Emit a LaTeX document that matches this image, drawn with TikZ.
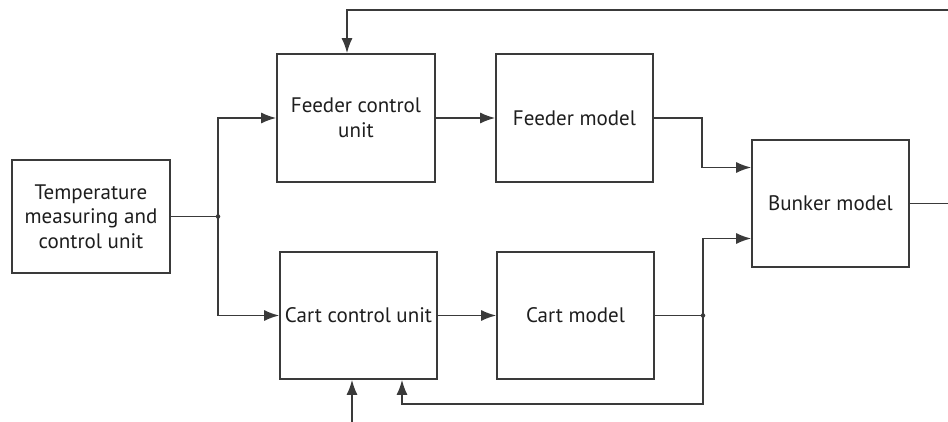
\documentclass[tikz,border=0pt]{standalone}
\usepackage{fontspec}
\setmainfont{PT Sans}
\usetikzlibrary{arrows.meta}
\definecolor{ln}{HTML}{3A3A3A}
\definecolor{tx}{HTML}{1E1E1E}
\tikzset{
  blockbox/.style={draw=ln, line width=1.6pt, fill=white, rectangle, inner sep=2pt,
    minimum width=157pt, minimum height=127pt, align=center, text=tx,
    font=\fontsize{21}{24.5}\selectfont},
  conn/.style={draw=ln, line width=1.6pt},
  arr/.style={conn, -{Latex[length=15pt,width=11pt]}},
  jdot/.style={circle, fill=ln, inner sep=0pt, minimum size=4.5pt}
}
\begin{document}
\begin{tikzpicture}[x=1pt, y=-1pt]
\useasboundingbox (0,0) rectangle (948,422);
\node[blockbox, minimum width=158pt, minimum height=113pt] (temp) at (91,216.5) {Temperature\\measuring and\\control unit};
\node[blockbox, minimum width=158pt, minimum height=128pt] (fcu) at (356,118) {Feeder control\\unit};
\node[blockbox, minimum height=128pt] (fm) at (574.5,118) {Feeder model};
\node[blockbox] (ccu) at (358.5,315.5) {Cart control unit};
\node[blockbox] (cm) at (575.5,315.5) {Cart model};
\node[blockbox] (bunker) at (830.5,203.5) {Bunker model};

\coordinate (j1) at (218,216.5);
\coordinate (jc) at (703,315.5);
\coordinate (fb) at (402,404);
\coordinate (inp) at (352,422);
\coordinate (tr) at (948,10);
\coordinate (ftop) at (347,10);
\coordinate (bout) at (948,203.5);
\coordinate (fmk) at (702,118);
\coordinate (bin1) at ([yshift=36pt]bunker.west);
\coordinate (bin2) at ([yshift=-35pt]bunker.west);

\draw[conn] (temp.east) -- (j1);
\draw[arr] (j1) |- (fcu.west);
\draw[arr] (j1) |- (ccu.west);
\node[jdot] (j1d) at (j1) {};

\draw[arr] (fcu.east) -- (fm.west);
\draw[arr] (ccu.east) -- (cm.west);

\draw[arr] (fm.east) -- (fmk) |- (bin1);
\draw[conn] (cm.east) -- (jc);
\draw[arr] (jc) |- (bin2);
\draw[arr] (jc) |- (fb) -- (fb |- ccu.south);
\node[jdot] (jcd) at (jc) {};

\draw[arr] (inp) -- (inp |- ccu.south);
\draw[arr] (tr) -- (ftop) -- (ftop |- fcu.north);
\draw[conn] (bunker.east) -- (bout);
\end{tikzpicture}
\end{document}
